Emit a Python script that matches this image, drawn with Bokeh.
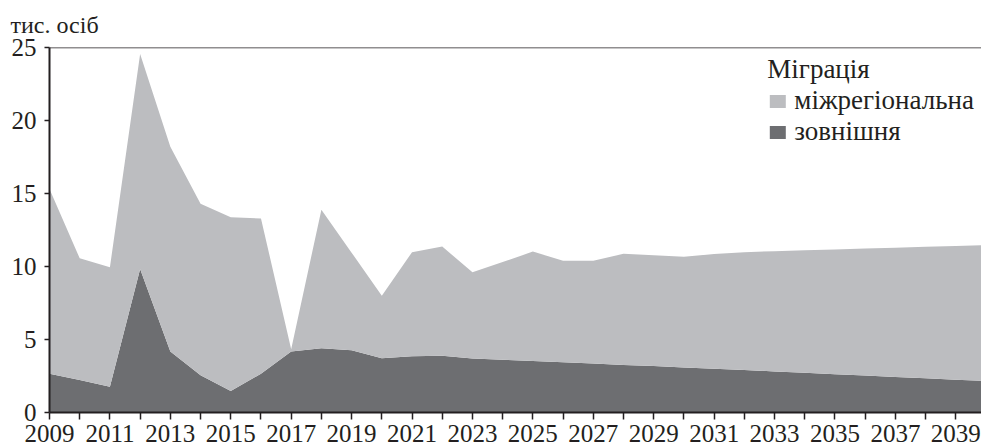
from bokeh.plotting import figure
from bokeh.models import ColumnDataSource, Legend, LegendItem, FixedTicker, Span, Range1d
from bokeh.embed import file_html
from bokeh.resources import INLINE

years = list(range(2009, 2041))
external = [2.66, 2.23, 1.77, 9.83, 4.17, 2.55, 1.47, 2.66, 4.17, 4.40, 4.27, 3.72,
            3.86, 3.88, 3.70, 3.61, 3.53, 3.44, 3.35, 3.26, 3.18, 3.09, 3.00, 2.91,
            2.81, 2.72, 2.62, 2.53, 2.44, 2.34, 2.25, 2.16]
interregional = [12.64, 8.33, 8.18, 14.73, 14.03, 11.75, 11.91, 10.63, 0.17, 9.49, 6.68, 4.28,
                 7.12, 7.49, 5.90, 6.69, 7.49, 6.96, 7.05, 7.61, 7.59, 7.57, 7.85, 8.07,
                 8.24, 8.39, 8.55, 8.70, 8.85, 9.01, 9.16, 9.31]
x_ticks = list(range(2009, 2040))
x_tick_labels = {y: (str(y) if y % 2 == 1 else "") for y in x_ticks}
y_ticks = [0, 5, 10, 15, 20, 25]
legend_title = "Міграція"
series_labels = ["міжрегіональна", "зовнішня"]
unit_label = "тис. осіб"

LIGHT = "#bcbdc0"
DARK = "#6d6e71"
INK = "#231f20"
FONT = "Liberation Serif"

source = ColumnDataSource(dict(year=years, external=external, interregional=interregional))

p = figure(width=981, height=448, output_backend="svg", toolbar_location=None,
           title=unit_label,
           x_range=Range1d(2009, 2039.85), y_range=Range1d(0, 25),
           min_border_left=49, min_border_right=0, min_border_top=47, min_border_bottom=36)
p.title.text_font = FONT
p.title.text_font_size = "24px"
p.title.text_font_style = "normal"
p.title.text_color = INK
p.title.align = "left"
p.title.vertical_align = "top"
p.title.offset = -39
p.title.standoff = 16

p.grid.visible = False
p.outline_line_color = None

rs = p.varea_stack(["external", "interregional"], x="year", source=source, color=[DARK, LIGHT])
r_ext, r_inter = rs

p.add_layout(Span(location=25, dimension="width", line_color=INK, line_width=1.5))

for ax in (p.xaxis[0], p.yaxis[0]):
    ax.axis_line_color = INK
    ax.axis_line_width = 2
    ax.major_tick_line_color = INK
    ax.major_tick_line_width = 1.5
    ax.major_tick_in = 0
    ax.minor_tick_line_color = None
    ax.major_label_text_font = FONT
    ax.major_label_text_font_size = "25px"
    ax.major_label_text_color = INK

p.xaxis.ticker = FixedTicker(ticks=x_ticks)
p.xaxis.major_label_overrides = x_tick_labels
p.xaxis.major_tick_out = 7
p.xaxis.major_label_standoff = 5
p.yaxis.ticker = FixedTicker(ticks=y_ticks)
p.yaxis.major_tick_out = 5
p.yaxis.major_label_standoff = 8

legend = Legend(items=[LegendItem(label=series_labels[0], renderers=[r_inter]),
                       LegendItem(label=series_labels[1], renderers=[r_ext])],
                title=legend_title, location="top_right")
legend.title_text_font = FONT
legend.title_text_font_size = "27px"
legend.title_text_font_style = "normal"
legend.title_text_color = INK
legend.title_standoff = -3
legend.label_text_font = FONT
legend.label_text_font_size = "27px"
legend.label_text_color = INK
legend.label_standoff = 7
legend.glyph_width = 20
legend.glyph_height = 16
legend.label_height = 20
legend.spacing = -6
legend.padding = 0
legend.margin = 7
legend.border_line_color = None
legend.background_fill_alpha = 0
p.add_layout(legend)

open("out.html", "w").write(file_html(p, INLINE))
